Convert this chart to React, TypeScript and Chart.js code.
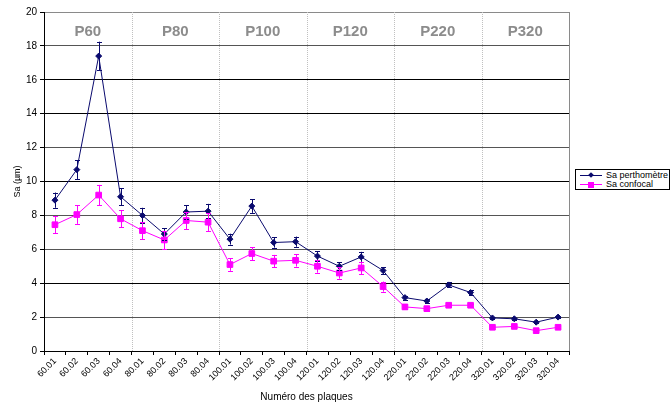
import React, { useEffect, useRef } from "react";
import { Chart, registerables } from "chart.js";

Chart.register(...registerables);

const categories = [
  "60.01", "60.02", "60.03", "60.04",
  "80.01", "80.02", "80.03", "80.04",
  "100.01", "100.02", "100.03", "100.04",
  "120.01", "120.02", "120.03", "120.04",
  "220.01", "220.02", "220.03", "220.04",
  "320.01", "320.02", "320.03", "320.04",
];
const groupLabels = ["P60", "P80", "P100", "P120", "P220", "P320"];
const groupSize = 4;

const perthometre = [
  8.9, 10.7, 17.4, 9.1,
  8.0, 6.9, 8.2, 8.25,
  6.6, 8.55, 6.4, 6.45,
  5.6, 5.0, 5.55, 4.75,
  3.15, 2.95, 3.9, 3.45,
  1.95, 1.9, 1.7, 2.0,
];
const perthometreErr = [
  0.45, 0.55, 0.85, 0.5,
  0.45, 0.35, 0.4, 0.43,
  0.32, 0.4, 0.3, 0.3,
  0.28, 0.25, 0.3, 0.2,
  0.12, 0.12, 0.15, 0.15,
  0.06, 0.06, 0.06, 0.06,
];
const confocal = [
  7.45, 8.05, 9.2, 7.8,
  7.1, 6.55, 7.7, 7.6,
  5.1, 5.75, 5.3, 5.35,
  5.0, 4.6, 4.9, 3.8,
  2.6, 2.5, 2.7, 2.7,
  1.4, 1.45, 1.2, 1.4,
];
const confocalErr = [
  0.5, 0.55, 0.6, 0.5,
  0.5, 0.55, 0.5, 0.52,
  0.37, 0.38, 0.37, 0.37,
  0.38, 0.33, 0.37, 0.3,
  0.15, 0.15, 0.1, 0.1,
  0.05, 0.05, 0.05, 0.05,
];
const yMin = 0;
const yMax = 20;
const yStep = 2;

const FONT = "Arial, 'Liberation Sans', sans-serif";
const BLUE = "#0a0a6e";
const PINK = "#ff00ff";

const errorBars = [perthometreErr, confocalErr];

const decorPlugin = {
  id: "decor",
  beforeDatasetsDraw(chart: any) {
    const { ctx, chartArea, scales } = chart;
    const x = scales.x;
    ctx.save();
    // group separators
    ctx.strokeStyle = "#c0c0c0";
    ctx.lineWidth = 1;
    ctx.setLineDash([1, 1]);
    for (let g = 1; g < groupLabels.length; g++) {
      const i = g * groupSize;
      const px = Math.round((x.getPixelForValue(i - 1) + x.getPixelForValue(i)) / 2) + 0.5;
      ctx.beginPath();
      ctx.moveTo(px, chartArea.top);
      ctx.lineTo(px, chartArea.bottom);
      ctx.stroke();
    }
    ctx.setLineDash([]);
    // right border
    ctx.strokeStyle = "#8a8a8a";
    ctx.beginPath();
    ctx.moveTo(Math.round(chartArea.right) + 0.5, chartArea.top);
    ctx.lineTo(Math.round(chartArea.right) + 0.5, chartArea.bottom);
    ctx.stroke();
    // group labels
    ctx.font = "bold 15px " + FONT;
    ctx.fillStyle = "#8c8c8c";
    ctx.textAlign = "center";
    ctx.textBaseline = "middle";
    groupLabels.forEach((lab, g) => {
      const a = x.getPixelForValue(g * groupSize);
      const b = x.getPixelForValue(g * groupSize + groupSize - 1);
      ctx.fillText(lab, (a + b) / 2, chartArea.top + 20);
    });
    ctx.restore();
  },
  afterDatasetsDraw(chart: any) {
    const { ctx, scales } = chart;
    const y = scales.y;
    ctx.save();
    chart.data.datasets.forEach((ds: any, di: number) => {
      const meta = chart.getDatasetMeta(di);
      const errs = errorBars[di];
      ctx.strokeStyle = ds.borderColor;
      ctx.lineWidth = 1;
      meta.data.forEach((pt: any, j: number) => {
        const v = ds.data[j];
        const e = errs[j];
        const px = Math.round(pt.x) + 0.5;
        const top = y.getPixelForValue(v + e);
        const bot = y.getPixelForValue(v - e);
        ctx.beginPath();
        ctx.moveTo(px, top);
        ctx.lineTo(px, bot);
        ctx.moveTo(px - 2.5, Math.round(top) + 0.5);
        ctx.lineTo(px + 2.5, Math.round(top) + 0.5);
        ctx.moveTo(px - 2.5, Math.round(bot) + 0.5);
        ctx.lineTo(px + 2.5, Math.round(bot) + 0.5);
        ctx.stroke();
      });
    });
    ctx.restore();
  },
};

export default function App() {
  const ref = useRef<HTMLCanvasElement>(null);

  useEffect(() => {
    if (!ref.current) return;
    const chart = new Chart(ref.current, {
      type: "line",
      data: {
        labels: categories,
        datasets: [
          {
            label: "Sa perthomètre",
            data: perthometre,
            borderColor: BLUE,
            backgroundColor: BLUE,
            borderWidth: 1,
            pointStyle: "rectRot",
            pointRadius: 3,
            pointBorderWidth: 1,
            tension: 0,
          },
          {
            label: "Sa confocal",
            data: confocal,
            borderColor: PINK,
            backgroundColor: PINK,
            borderWidth: 1,
            pointStyle: "rect",
            pointRadius: 4,
            pointBorderWidth: 1,
            tension: 0,
          },
        ],
      },
      options: {
        responsive: false,
        animation: false,
        layout: { padding: { left: 12, right: 101, top: 12, bottom: 0 } },
        plugins: {
          legend: { display: false },
          tooltip: { enabled: false },
        },
        scales: {
          x: {
            type: "category",
            offset: true,
            grid: {
              offset: true,
              drawOnChartArea: false,
              drawTicks: true,
              tickLength: 4,
              tickColor: "#000",
            },
            border: { color: "#000" },
            ticks: {
              autoSkip: false,
              minRotation: 45,
              maxRotation: 45,
              color: "#000",
              padding: 1,
              font: { family: FONT, size: 9 },
            },
            title: {
              display: true,
              text: "Numéro des plaques",
              color: "#000",
              font: { family: FONT, size: 10 },
              padding: { top: 0, bottom: 2 },
            },
            afterFit: (s: any) => {
              s.height = 54;
            },
          },
          y: {
            min: yMin,
            max: yMax,
            ticks: {
              stepSize: yStep,
              color: "#000",
              padding: 3,
              font: { family: FONT, size: 10 },
            },
            grid: {
              color: (c: any) => {
                const v = c.tick ? c.tick.value : 0;
                if (v === 20) return "#8a8a8a";
                return [18, 12, 8, 6, 2].includes(v) ? "#555" : "#000";
              },
              tickColor: "#000",
              tickLength: 4,
            },
            border: { color: "#000" },
            title: {
              display: true,
              text: "Sa (µm)",
              color: "#000",
              font: { family: FONT, size: 9 },
              padding: 0,
            },
            afterFit: (s: any) => {
              s.width = 32;
            },
          },
        },
      },
      plugins: [decorPlugin],
    });
    return () => chart.destroy();
  }, []);

  const legendRow = (color: string, marker: "diamond" | "square", text: string) => (
    <div style={{ display: "flex", alignItems: "center", height: 9 }}>
      <div style={{ position: "relative", width: 22, height: 9, marginRight: 4 }}>
        <div style={{ position: "absolute", left: 0, top: 4, width: 22, height: 1, background: color }} />
        <div
          style={{
            position: "absolute",
            left: marker === "diamond" ? 9 : 8,
            top: marker === "diamond" ? 2 : 1.5,
            width: marker === "diamond" ? 4 : 6,
            height: marker === "diamond" ? 4 : 6,
            background: color,
            transform: marker === "diamond" ? "rotate(45deg)" : "none",
          }}
        />
      </div>
      <span style={{ fontFamily: FONT, fontSize: 9, color: "#000", lineHeight: "9px", whiteSpace: "nowrap" }}>{text}</span>
    </div>
  );

  return (
    <div style={{ position: "absolute", left: 0, top: 0, width: 670, height: 405, background: "#fff" }}>
      <canvas ref={ref} width={670} height={405} style={{ display: "block" }} />
      <div
        style={{
          position: "absolute",
          left: 575,
          top: 169,
          width: 95,
          height: 21,
          boxSizing: "border-box",
          border: "1px solid #000",
          background: "#fff",
          padding: "1px 0 0 4px",
        }}
      >
        {legendRow(BLUE, "diamond", "Sa perthomètre")}
        {legendRow(PINK, "square", "Sa confocal")}
      </div>
    </div>
  );
}
